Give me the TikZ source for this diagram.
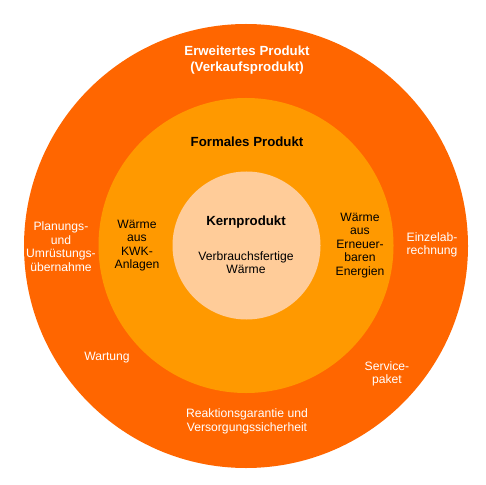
\documentclass[tikz,border=0pt]{standalone}
\usepackage{fontspec}
\setmainfont{Liberation Sans}
\usepackage{tikz}

\definecolor{ringout}{HTML}{FF6600}
\definecolor{ringmid}{HTML}{FF9900}
\definecolor{ringin}{HTML}{FFCC99}

\begin{document}
\begin{tikzpicture}[
  x=1bp,y=-1bp,
  ring/.style={circle,draw=none,inner sep=0pt},
  head/.style={align=center,font=\fontsize{13.3}{16}\selectfont\bfseries},
  lbl/.style={align=center,font=\fontsize{12.2}{13.5}\selectfont},
  outtxt/.style={lbl,text=white}
]
\useasboundingbox (0,0) rectangle (486,485);

% the three rings
\node[ring,fill=ringout,minimum size=444bp] (erw)  at (246,246) {};
\node[ring,fill=ringmid,minimum size=295bp] (form) at (246,245.5) {};
\node[ring,fill=ringin, minimum size=148bp] (kern) at (246.5,245.5) {};

% outer ring
\node[head,text=white] (erwt) at (247,60) {Erweitertes Produkt\\(Verkaufsprodukt)};
\node[outtxt] (plan) at (61,246.5) {Planungs-\\und\\Umrüstungs-\\übernahme};
\node[outtxt] (einz) at (432,245) {Einzelab-\\rechnung};
\node[outtxt] (wart) at (107,358) {Wartung};
\node[outtxt] (serv) at (387,374) {Service-\\paket};
\node[outtxt] (reak) at (247,421.5) {Reaktionsgarantie und\\Versorgungssicherheit};

% middle ring
\node[head] (formt) at (247,142) {Formales Produkt};
\node[lbl] (kwk) at (137,245.5) {Wärme\\aus\\KWK-\\Anlagen};
\node[lbl] (ee)  at (360,245.5) {Wärme\\aus\\Erneuer-\\baren\\Energien};

% core
\node[head] (kernt) at (246,222) {Kernprodukt};
\node[lbl] (verb) at (246,262.5) {Verbrauchsfertige\\Wärme};
\end{tikzpicture}
\end{document}
